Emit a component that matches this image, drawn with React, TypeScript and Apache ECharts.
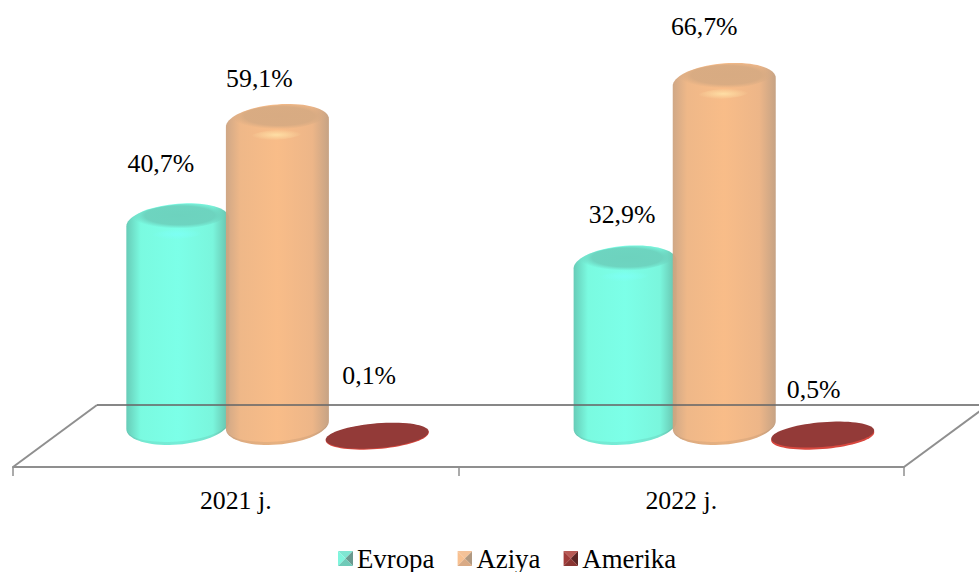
import React, { useEffect, useRef } from "react";
import * as echarts from "echarts";

const categories = ["2021 j.", "2022 j."];
const seriesNames = ["Evropa", "Aziya", "Amerika"];
const evropaValues = [40.7, 32.9];
const aziyaValues = [59.1, 66.7];
const amerikaValues = [0.1, 0.5];

const SERIF = '"Liberation Serif", "Times New Roman", serif';
const FONT_SIZE = 25.8;
const LEGEND_FONT_SIZE = 26.8;
const GRAY = "#8f8f8f";

// band-relative x offset of each cylinder, per category
const xOffsets = [[-0.13, -0.126], [0.0935, 0.0965], [0.3175, 0.3175]];
// hand-placed label nudges [dx, dy], as in the reference
const labelNudges = [
  [[-17, -53], [-3, -44]],
  [[-18, -38], [-20, -49]],
  [[-8, -59.5], [-9, -44]],
];

const palette = [
  {
    base: "#7dffe8",
    stops: ["rgba(92,200,178,0.93)", "rgba(112,250,222,0.93)", "rgba(114,255,230,0.93)", "rgba(112,245,218,0.93)", "rgba(90,185,163,0.93)"],
    face: "rgba(108,208,188,", glow: "rgba(125,255,245,",
  },
  {
    base: "#f6b983",
    stops: ["rgba(205,163,128,0.95)", "rgba(238,180,130,0.95)", "rgba(248,185,130,0.95)", "rgba(236,178,130,0.95)", "rgba(195,158,126,0.95)"],
    face: "rgba(214,170,130,", glow: "rgba(255,228,170,",
  },
  {
    base: "#933a38",
    stops: ["#933a38", "#933a38", "#933a38", "#933a38", "#933a38"],
    face: "rgba(147,58,56,", glow: "rgba(215,70,60,",
  },
];

const arc = (cx: number, cy: number, rx: number, ry: number, t0: number, t1: number, n = 36) => {
  const pts: number[][] = [];
  const skew = 4 * (rx / 51.5);
  for (let i = 0; i <= n; i++) {
    const t = t0 + ((t1 - t0) * i) / n;
    pts.push([cx + rx * Math.cos(t), cy + ry * Math.sin(t) - skew * Math.cos(t)]);
  }
  return pts;
};

const legendIcon = (light: string, mid: string, dark: string, center: string) =>
  "image://data:image/svg+xml," +
  encodeURIComponent(
    `<svg xmlns="http://www.w3.org/2000/svg" width="16" height="16">` +
      `<polygon points="0,0 16,0 8,8" fill="${light}"/>` +
      `<polygon points="0,0 0,16 8,8" fill="${center}"/>` +
      `<polygon points="16,0 16,16 8,8" fill="${dark}"/>` +
      `<polygon points="0,16 16,16 8,8" fill="${mid}"/></svg>`
  );

const legendIcons = [
  legendIcon("#7fe6d2", "#6fcab8", "#6a9a90", "#7ff5dd"),
  legendIcon("#f4c298", "#d9aa85", "#b09880", "#f8c090"),
  legendIcon("#b85a55", "#8a3532", "#5c2524", "#a03c3a"),
];

const makeRenderItem = (seriesIndex: number) => (_params: any, api: any) => {
  const cat = api.value(0);
  const v = api.value(1);
  const band = api.size([1, 0])[0];
  const cx = api.coord([cat, v])[0] + band * xOffsets[seriesIndex][cat];
  const topY = api.coord([cat, v])[1];
  const baseY = api.coord([cat, 0])[1];
  const rx = band * 0.1156;
  const colors = palette[seriesIndex];
  const [dx, dy] = labelNudges[seriesIndex][cat];
  const label = {
    type: "text",
    z2: 20,
    style: {
      text: v.toFixed(1).replace(".", ",") + "%",
      x: cx + dx,
      y: topY + dy,
      font: `${FONT_SIZE}px ${SERIF}`,
      fill: "#000",
      textAlign: "center",
      textVerticalAlign: "middle",
    },
  };

  if (baseY - topY < 10) {
    // nearly flat value: a thin disc lying on the floor
    return {
      type: "group",
      children: [
        { type: "polygon", shape: { points: arc(cx, baseY + 0.5, rx, 12.6, 0, Math.PI * 2, 72) }, style: { fill: "#d8483f" } },
        { type: "polygon", shape: { points: arc(cx, (topY + baseY) / 2, rx * 0.998, 12.4, 0, Math.PI * 2, 72) }, style: { fill: colors.base } },
        label,
      ],
    };
  }

  const fill = new echarts.graphic.LinearGradient(0, 0, 1, 0, [
    { offset: 0, color: colors.stops[0] },
    { offset: 0.14, color: colors.stops[1] },
    { offset: 0.5, color: colors.stops[2] },
    { offset: 0.84, color: colors.stops[3] },
    { offset: 1, color: colors.stops[4] },
  ]);
  const outline = [
    ...arc(cx, topY + 6, rx, 18.5, Math.PI, Math.PI * 2),
    ...arc(cx, baseY - 11, rx, 19.6, 0, Math.PI),
  ];
  const rim = [
    ...arc(cx, baseY - 11, rx, 19.6, 0, Math.PI),
    ...arc(cx, baseY - 11, rx, 16.5, Math.PI, 0),
  ];
  const glowFill = new echarts.graphic.RadialGradient(0.5, 0.5, 0.5, [
    { offset: 0, color: colors.glow + "0.85)" },
    { offset: 1, color: colors.glow + "0)" },
  ]);
  const faceFill = new echarts.graphic.RadialGradient(0.5, 0.45, 0.5, [
    { offset: 0, color: colors.face + "0.95)" },
    { offset: 0.72, color: colors.face + "0.9)" },
    { offset: 1, color: colors.face + "0)" },
  ]);
  return {
    type: "group",
    children: [
      { type: "polygon", shape: { points: outline }, style: { fill } },
      { type: "polygon", shape: { points: rim }, style: { fill: "rgba(60,60,60,0.09)" } },
      { type: "polygon", shape: { points: arc(cx + 2, topY + 0.5, rx * 0.94, 12.6, 0, Math.PI * 2) }, style: { fill: faceFill } },
      { type: "polygon", shape: { points: arc(cx - 1, topY + 18, rx * 0.5, 5, 0, Math.PI * 2) }, style: { fill: glowFill } },
      label,
    ],
  };
};

const seriesValues = [evropaValues, aziyaValues, amerikaValues];

export default function App() {
  const ref = useRef<HTMLDivElement>(null);
  useEffect(() => {
    const chart = echarts.init(ref.current!, undefined, { renderer: "svg" });
    chart.setOption({
      animation: false,
      backgroundColor: "#fff",
      grid: { left: 13, right: 75, top: 0, bottom: 105, containLabel: false },
      xAxis: {
        type: "category",
        data: categories,
        boundaryGap: true,
        axisLine: { onZero: false, lineStyle: { color: GRAY, width: 2 } },
        axisTick: { show: true, length: 9, alignWithLabel: false, lineStyle: { color: GRAY, width: 1.5 } },
        axisLabel: { margin: 20, color: "#000", fontFamily: SERIF, fontSize: FONT_SIZE },
        splitLine: { show: false },
      },
      yAxis: { type: "value", show: false, min: -5.75, max: 80.75, splitLine: { show: false } },
      legend: {
        left: 338,
        top: 545,
        padding: 0,
        itemWidth: 15,
        itemHeight: 15,
        itemGap: 23,
        data: seriesNames.map((name, i) => ({ name, icon: legendIcons[i] })),
        textStyle: { color: "#000", fontFamily: SERIF, fontSize: LEGEND_FONT_SIZE, padding: [0, 0, 0, -1] },
      },
      graphic: [
        {
          type: "polyline",
          z: 0,
          silent: true,
          shape: { points: [[13, 467], [97, 405]] },
          style: { stroke: GRAY, lineWidth: 2, fill: "none" },
        },
        {
          type: "polyline",
          z: 0,
          silent: true,
          shape: { points: [[904, 467], [988, 405]] },
          style: { stroke: GRAY, lineWidth: 2, fill: "none" },
        },
        {
          type: "line",
          z: 10,
          silent: true,
          shape: { x1: 97, y1: 405, x2: 979, y2: 405 },
          style: { stroke: "rgba(105,105,105,0.8)", lineWidth: 2 },
        },
      ],
      series: seriesNames.map((name, i) => ({
        name,
        type: "custom",
        clip: false,
        itemStyle: { color: palette[i].base },
        renderItem: makeRenderItem(i),
        encode: { x: 0, y: 1 },
        data: seriesValues[i].map((v, c) => [c, v]),
      })),
    });
    return () => chart.dispose();
  }, []);
  return <div ref={ref} style={{ position: "fixed", left: 0, top: 0, width: 979, height: 572 }} />;
}
